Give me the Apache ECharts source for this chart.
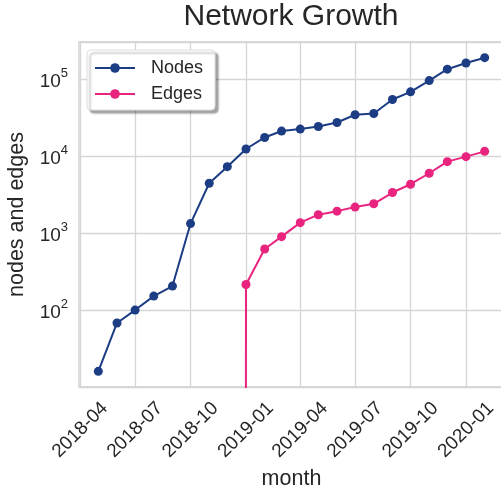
<!DOCTYPE html>
<html>
<head>
<meta charset="utf-8">
<script src="https://cdn.jsdelivr.net/npm/echarts@6/dist/echarts.min.js"></script>
<style>
  html, body { margin: 0; padding: 0; background: #ffffff; }
  #chart { width: 501px; height: 491px; }
</style>
</head>
<body>
<div id="chart"></div>
<script>
// Monthly snapshots, taken on the first day of each month
const nodeMonths = ['2018-05', '2018-06', '2018-07', '2018-08', '2018-09', '2018-10', '2018-11', '2018-12',
  '2019-01', '2019-02', '2019-03', '2019-04', '2019-05', '2019-06', '2019-07', '2019-08', '2019-09',
  '2019-10', '2019-11', '2019-12', '2020-01', '2020-02'];
const nodeCounts = [16, 68, 100, 152, 205, 1330, 4450, 7300,
  12400, 17500, 21200, 22500, 24300, 27400, 34500, 35900, 54500,
  68500, 96000, 135000, 162500, 190500];

const edgeMonths = ['2018-12', '2019-01', '2019-02', '2019-03', '2019-04', '2019-05', '2019-06', '2019-07',
  '2019-08', '2019-09', '2019-10', '2019-11', '2019-12', '2020-01', '2020-02'];
const edgeCounts = [0, 215, 622, 900, 1368, 1735, 1930, 2180,
  2405, 3370, 4320, 6000, 8490, 9860, 11550];

// Quarterly date ticks on the month axis
const tickMonths = ['2018-04', '2018-07', '2018-10', '2019-01', '2019-04', '2019-07', '2019-10', '2020-01'];

const FONT = 'Liberation Sans, Arial, sans-serif';
const TEXT = '#262626';
const NODE_COLOR = '#1c3d84';
const EDGE_COLOR = '#e8247f';

function monthTime(s) {
  const [y, m] = s.split('-').map(Number);
  return Date.UTC(y, m - 1, 1);
}
function pad2(n) { return (n < 10 ? '0' : '') + n; }

// Non-positive counts are clipped to a tiny value on the log scale,
// so the series drops straight through the bottom of the plot.
function logSafe(v) { return v > 0 ? v : 1e-300; }

const nodeData = nodeMonths.map((m, i) => [monthTime(m), nodeCounts[i]]);
const edgeData = edgeMonths.map((m, i) => [monthTime(m), logSafe(edgeCounts[i])]);
const tickTimes = tickMonths.map(monthTime);

// 5% padding around the data, like the default autoscale margins
const allTimes = nodeData.concat(edgeData).map(d => d[0]);
const tMin = Math.min(...allTimes), tMax = Math.max(...allTimes);
const tPad = (tMax - tMin) * 0.05;

const positive = nodeCounts.concat(edgeCounts).filter(v => v > 0);
const lLo = Math.log10(Math.min(...positive)), lHi = Math.log10(Math.max(...positive));
const lPad = (lHi - lLo) * 0.05;

const chart = echarts.init(document.getElementById('chart'), null, { renderer: 'canvas' });

chart.setOption({
  animation: false,
  backgroundColor: '#ffffff',
  textStyle: { fontFamily: FONT },
  title: {
    text: 'Network Growth',
    left: 291,
    textAlign: 'center',
    top: 2,
    padding: 0,
    textStyle: { fontFamily: FONT, fontSize: 30, fontWeight: 'normal', color: TEXT }
  },
  grid: {
    left: 79, top: 42, width: 425, height: 345,
    outerBoundsMode: 'none',
    containLabel: false,
    show: true,
    borderColor: '#cccccc',
    borderWidth: 1.3,
    backgroundColor: '#ffffff'
  },
  legend: {
    orient: 'vertical',
    left: 87,
    top: 50,
    itemWidth: 40,
    itemHeight: 12,
    itemGap: 8,
    padding: [9, 12, 7, 7],
    backgroundColor: '#ffffff',
    borderColor: '#dddddd',
    borderWidth: 1,
    borderRadius: 4,
    shadowColor: 'rgba(0,0,0,0.35)',
    shadowBlur: 2,
    shadowOffsetX: 3,
    shadowOffsetY: 3,
    textStyle: { fontFamily: FONT, fontSize: 18, color: TEXT, padding: [0, 0, 0, 11] },
    data: ['Nodes', 'Edges']
  },
  xAxis: {
    type: 'value',
    min: tMin - tPad,
    max: tMax + tPad,
    name: 'month',
    nameLocation: 'middle',
    nameGap: 75,
    nameTextStyle: { fontFamily: FONT, fontSize: 21.5, color: TEXT },
    axisLine: { show: false },
    axisTick: { show: false, customValues: tickTimes },
    splitLine: { show: true, lineStyle: { color: '#d5d5d5', width: 1.3 } },
    axisLabel: {
      customValues: tickTimes,
      rotate: 45,
      align: 'center',
      verticalAlign: 'middle',
      margin: 43,
      fontFamily: FONT,
      fontSize: 19,
      color: TEXT,
      hideOverlap: false,
      formatter: function (v) {
        const d = new Date(v);
        return d.getUTCFullYear() + '-' + pad2(d.getUTCMonth() + 1);
      }
    }
  },
  yAxis: {
    type: 'log',
    logBase: 10,
    min: Math.pow(10, lLo - lPad),
    max: Math.pow(10, lHi + lPad),
    name: 'nodes and edges',
    nameLocation: 'middle',
    nameGap: 51,
    nameTextStyle: { fontFamily: FONT, fontSize: 21.5, color: TEXT },
    axisLine: { show: false },
    axisTick: { show: false },
    minorTick: { show: false },
    splitLine: { show: true, lineStyle: { color: '#d5d5d5', width: 1.3 } },
    axisLabel: {
      margin: 11,
      showMinLabel: false,
      showMaxLabel: false,
      formatter: function (v) {
        const e = Math.round(Math.log10(v));
        if (Math.abs(Math.pow(10, e) - v) > 1e-6 * v) return '';
        return '{b|10}{s|' + e + '}';
      },
      rich: {
        b: { fontFamily: FONT, fontSize: 19, color: TEXT, lineHeight: 24, verticalAlign: 'bottom' },
        s: { fontFamily: FONT, fontSize: 13, color: TEXT, lineHeight: 24, verticalAlign: 'top', padding: [0, 0, 6, 0] }
      }
    }
  },
  series: [
    {
      name: 'Nodes',
      type: 'line',
      data: nodeData,
      clip: true,
      showSymbol: true,
      symbol: 'circle',
      symbolSize: 9,
      color: NODE_COLOR,
      lineStyle: { color: NODE_COLOR, width: 2 },
      itemStyle: { color: NODE_COLOR },
      z: 3
    },
    {
      name: 'Edges',
      type: 'line',
      data: edgeData,
      clip: true,
      showSymbol: true,
      symbol: 'circle',
      symbolSize: 9,
      color: EDGE_COLOR,
      lineStyle: { color: EDGE_COLOR, width: 2 },
      itemStyle: { color: EDGE_COLOR },
      z: 3
    }
  ]
});
</script>
</body>
</html>
